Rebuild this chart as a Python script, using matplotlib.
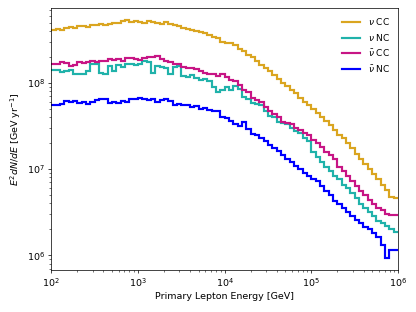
import numpy as np
import matplotlib
matplotlib.use("Agg")
from matplotlib import pyplot as plt

# bin edges: 20 bins per decade from 1e2 to 1e6 GeV
edges = np.logspace(2, 6, 81)

# log10 of E^2 dN/dE per bin
log_nu_cc = [
    8.62, 8.63, 8.62, 8.64, 8.65, 8.64, 8.66, 8.66, 8.65, 8.67,
    8.67, 8.68, 8.67, 8.69, 8.70, 8.70, 8.72, 8.73, 8.71, 8.72,
    8.71, 8.70, 8.72, 8.71, 8.70, 8.69, 8.71, 8.68, 8.67, 8.66,
    8.64, 8.63, 8.62, 8.60, 8.59, 8.58, 8.56, 8.53, 8.52, 8.48,
    8.47, 8.46, 8.44, 8.40, 8.37, 8.32, 8.30, 8.26, 8.21, 8.17,
    8.14, 8.09, 8.05, 8.00, 7.96, 7.92, 7.88, 7.83, 7.78, 7.74,
    7.70, 7.65, 7.61, 7.56, 7.51, 7.45, 7.40, 7.36, 7.30, 7.24,
    7.18, 7.12, 7.06, 7.00, 6.94, 6.88, 6.82, 6.76, 6.68, 6.67,
]
log_nu_nc = [
    8.15, 8.15, 8.13, 8.14, 8.15, 8.10, 8.10, 8.10, 8.14, 8.22,
    8.22, 8.12, 8.11, 8.20, 8.14, 8.21, 8.19, 8.22, 8.22, 8.21,
    8.22, 8.25, 8.24, 8.12, 8.20, 8.19, 8.17, 8.11, 8.19, 8.20,
    8.08, 8.07, 8.09, 8.06, 8.04, 8.05, 8.02, 7.95, 7.90, 7.92,
    7.95, 7.92, 7.96, 7.93, 7.84, 7.81, 7.77, 7.76, 7.74, 7.67,
    7.62, 7.60, 7.55, 7.54, 7.52, 7.48, 7.44, 7.42, 7.36, 7.33,
    7.20, 7.14, 7.08, 7.03, 6.98, 6.92, 6.88, 6.82, 6.78, 6.72,
    6.66, 6.60, 6.55, 6.50, 6.45, 6.40, 6.38, 6.34, 6.31, 6.27,
]
log_nubar_cc = [
    8.22, 8.22, 8.24, 8.23, 8.20, 8.21, 8.24, 8.23, 8.24, 8.25,
    8.24, 8.25, 8.26, 8.28, 8.27, 8.28, 8.26, 8.29, 8.29, 8.28,
    8.27, 8.29, 8.30, 8.30, 8.31, 8.28, 8.25, 8.24, 8.22, 8.22,
    8.19, 8.18, 8.17, 8.16, 8.14, 8.12, 8.11, 8.10, 8.08, 8.10,
    8.07, 8.04, 8.02, 7.98, 7.92, 7.89, 7.83, 7.80, 7.78, 7.72,
    7.67, 7.64, 7.60, 7.55, 7.54, 7.52, 7.48, 7.45, 7.42, 7.40,
    7.34, 7.30, 7.26, 7.20, 7.16, 7.12, 7.02, 6.98, 6.92, 6.86,
    6.80, 6.75, 6.70, 6.64, 6.60, 6.55, 6.52, 6.48, 6.47, 6.47,
]
log_nubar_nc = [
    7.75, 7.74, 7.76, 7.79, 7.78, 7.79, 7.77, 7.78, 7.76, 7.78,
    7.80, 7.81, 7.81, 7.77, 7.78, 7.77, 7.79, 7.78, 7.81, 7.82,
    7.83, 7.82, 7.80, 7.81, 7.78, 7.80, 7.82, 7.79, 7.75, 7.76,
    7.75, 7.74, 7.72, 7.73, 7.70, 7.71, 7.69, 7.68, 7.67, 7.60,
    7.59, 7.56, 7.52, 7.50, 7.55, 7.47, 7.41, 7.40, 7.36, 7.33,
    7.28, 7.25, 7.21, 7.16, 7.12, 7.08, 7.04, 7.00, 6.95, 6.92,
    6.88, 6.86, 6.80, 6.75, 6.70, 6.63, 6.60, 6.55, 6.50, 6.46,
    6.41, 6.38, 6.33, 6.30, 6.26, 6.21, 6.12, 5.97, 6.06, 6.06,
]

labels = [r"$\nu$ CC", r"$\nu$ NC", r"$\bar{\nu}$ CC", r"$\bar{\nu}$ NC"]
colors = ["goldenrod", "lightseagreen", "mediumvioletred", "blue"]
series = [log_nu_cc, log_nu_nc, log_nubar_cc, log_nubar_nc]

plt.rcParams["font.size"] = 10.5

fig = plt.figure(figsize=(6.4, 4.8), dpi=65)
ax = fig.add_axes([0.123, 0.135, 0.834, 0.839])

for vals, lab, col in zip(series, labels, colors):
    ax.stairs(10 ** np.array(vals), edges, baseline=None, color=col, lw=2.4, label=lab)

ax.set_xscale("log")
ax.set_yscale("log")
ax.set_xlim(1e2, 1e6)
ax.set_ylim(10 ** 5.83, 10 ** 8.87)
ax.set_xlabel("Primary Lepton Energy [GeV]")
ax.set_ylabel(r"$E^2dN/dE$ [GeV yr$^{-1}$]")
ax.legend(loc="upper right", frameon=False, fontsize=10)

fig.savefig("out.png", dpi=65)
